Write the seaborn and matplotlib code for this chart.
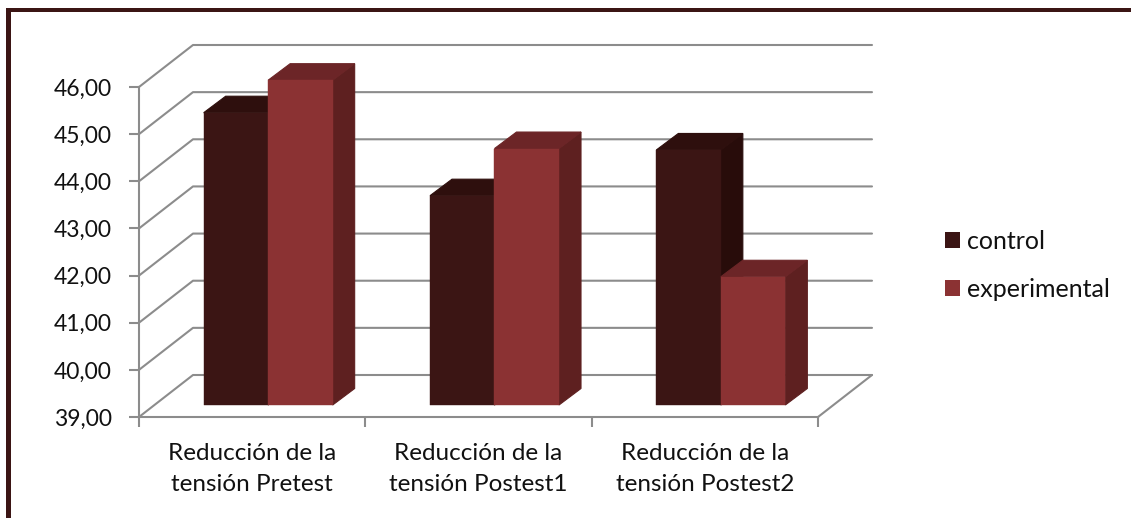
import matplotlib
matplotlib.use("Agg")
import matplotlib.pyplot as plt
import pandas as pd
import seaborn as sns
from matplotlib.patches import Polygon, Rectangle
from matplotlib.transforms import Affine2D, IdentityTransform

categories = ["Reducción de la\ntensión Pretest",
              "Reducción de la\ntensión Postest1",
              "Reducción de la\ntensión Postest2"]
series_names = ["control", "experimental"]
control = [45.20, 43.44, 44.41]
experimental = [45.89, 44.44, 41.72]
y_ticks = [39, 40, 41, 42, 43, 44, 45, 46]

W, H = 1131, 518
FONT = "Lato"
GRID = "#8c8c8c"
FRONT = {"control": "#3b1514", "experimental": "#8b3233"}
SIDE = {"control": "#280c0a", "experimental": "#5e2020"}
TOP = {"control": "#2e0f0d", "experimental": "#6c2527"}

sns.set_theme(style="white")
plt.rcParams["font.family"] = [FONT, "DejaVu Sans"]

fig = plt.figure(figsize=(W / 100, H / 100), dpi=100, facecolor="white")
ax = fig.add_axes([139 / W, 1 - 417 / H, (818 - 139) / W, (417 - 87) / H])

df = pd.DataFrame({
    "categoria": categories * 2,
    "grupo": [series_names[0]] * 3 + [series_names[1]] * 3,
    "valor": control + experimental,
})
sns.barplot(data=df, x="categoria", y="valor", hue="grupo", hue_order=series_names,
            palette=FRONT, width=0.57, gap=0, saturation=1, legend=False, ax=ax, zorder=5)
ax.set_xlim(-0.5, 2.5)
ax.set_ylim(y_ticks[0], y_ticks[-1])
ax.set_xlabel("")
ax.set_ylabel("")


def px(x, y, dx=0.0, dy=0.0):
    """Display position of a data point, shifted by a depth offset in pixels."""
    a, b = ax.transData.transform((x, y))
    return (a + dx, b + dy)


# Back wall and floor of the 3D box
WALL = (54, 42)
x0, x1 = ax.get_xlim()
for v in y_ticks:
    a = px(x0, v)
    b = px(x0, v, *WALL)
    c = px(x1, v, *WALL)
    ax.add_line(plt.Line2D([a[0], b[0], c[0]], [a[1], b[1], c[1]], color=GRID, lw=1.5,
                           transform=IdentityTransform(), clip_on=False, zorder=1))
a, b = px(x1, y_ticks[0]), px(x1, y_ticks[0], *WALL)
ax.add_line(plt.Line2D([a[0], b[0]], [a[1], b[1]], color=GRID, lw=1.5,
                       transform=IdentityTransform(), clip_on=False, zorder=1))

# Extruded bars: the front face sits on a plane set back from the axis
PLANE = (16, 12)
DEPTH = (22, 16.5)
shift = Affine2D().translate(*PLANE)
n_cat = len(categories)
for i, patch in enumerate(ax.patches[:2 * n_cat]):
    name = series_names[i // n_cat]
    value = patch.get_height()
    base = y_ticks[0]
    patch.set_y(base)
    patch.set_height(value - base)
    patch.set_transform(ax.transData + shift)
    patch.set_clip_on(False)
    patch.set_edgecolor(FRONT[name])
    patch.set_linewidth(0.3)
    z = 5 + (i % n_cat) * 3 + (i // n_cat)
    patch.set_zorder(z + 0.5)
    xl, xr = patch.get_x(), patch.get_x() + patch.get_width()
    fl = px(xl, value, *PLANE)
    fr = px(xr, value, *PLANE)
    br = px(xr, base, *PLANE)
    off = lambda p: (p[0] + DEPTH[0], p[1] + DEPTH[1])
    ax.add_patch(Polygon([fr, br, off(br), off(fr)], closed=True, fc=SIDE[name], ec=SIDE[name], lw=0.8,
                         transform=IdentityTransform(), clip_on=False, zorder=z))
    ax.add_patch(Polygon([fl, fr, off(fr), off(fl)], closed=True, fc=TOP[name], ec=TOP[name], lw=0.8,
                         transform=IdentityTransform(), clip_on=False, zorder=z))

# Axes
sns.despine(ax=ax, top=True, right=True)
for s in ("left", "bottom"):
    ax.spines[s].set_color(GRID)
    ax.spines[s].set_linewidth(1.5)
ax.set_yticks(y_ticks)
ax.set_yticklabels([f"{v:.2f}".replace(".", ",") for v in y_ticks], fontsize=16.5, color="#111111")
ax.tick_params(axis="y", length=7, width=1.5, color=GRID, pad=12.5, left=True)
ax.set_xticks([-0.5, 0.5, 1.5, 2.5])
ax.set_xticklabels([])
ax.set_xticks(range(n_cat), labels=categories, minor=True)
ax.tick_params(axis="x", which="major", length=7, width=1.5, color=GRID, bottom=True)
ax.tick_params(axis="x", which="minor", length=0, pad=18.5, labelsize=17.5, labelcolor="#111111")
for t in ax.get_xticklabels(minor=True):
    t.set_linespacing(1.6)

# Legend
handles = [Rectangle((0, 0), 1, 1, fc=FRONT[n], lw=0) for n in series_names]
fig.legend(handles, series_names, loc="center left", bbox_to_anchor=(945 / W, 1 - 265.5 / H),
           frameon=False, fontsize=18, labelspacing=1.0, handlelength=0.6,
           handleheight=0.6, handletextpad=0.3, borderpad=0, borderaxespad=0,
           labelcolor="#111111")

# Dark frame along the top and left edges
FRAME = "#3b1514"
fig.add_artist(Rectangle((6 / W, 0), 5 / W, 1 - 8 / H, transform=fig.transFigure, fc=FRAME, lw=0))
fig.add_artist(Rectangle((6 / W, 1 - 12 / H), 1 - 6 / W, 4 / H, transform=fig.transFigure, fc=FRAME, lw=0))

fig.savefig("out.png", dpi=100, facecolor="white")
